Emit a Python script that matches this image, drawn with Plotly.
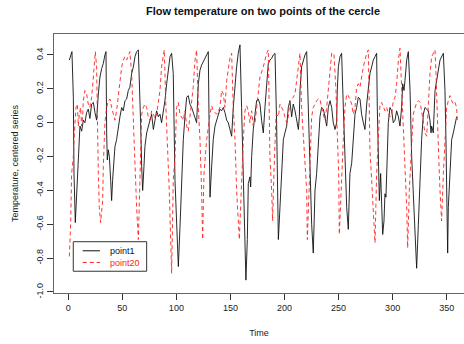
import plotly.graph_objects as go

# point1 (black, solid): time and centered temperature
t1 = [1, 2, 3.4, 4.7, 5.3, 6.5, 7.7, 9.3, 10.8, 12.4, 13.9, 15.4, 17, 18.5, 20, 21.6, 23.2, 24.7, 26.2, 27.8,
      29.3, 30.9, 32.4, 33.9, 34.9, 35.5, 36.1, 37, 38, 39.2, 40.1, 41, 42.3, 43.2, 44.7, 46.3, 47.8, 49.4, 50.9,
      52.4, 54, 55.5, 57, 58.6, 60.2, 61.7, 63.2, 64.8, 65.7, 66.9, 67.9, 68.8, 70, 70.9, 72.5, 74, 75.6, 77.1,
      78.7, 80.2, 81.7, 83.3, 84.8, 86.3, 87.9, 89.4, 91, 92.5, 94.1, 95.6, 97.1, 98.7, 100.2, 101.8, 103.3,
      104.8, 106.4, 107.9, 109.5, 111, 112.5, 114.1, 115.6, 117.2, 118.7, 120.3, 121.8, 123.3, 124.9, 126.4,
      128, 129.5, 130.4, 131.1, 132.6, 134.1, 135.7, 137.2, 138.8, 140.3, 141.8, 143.4, 144.9, 146.5, 148,
      149.5, 151.1, 152.6, 154.2, 155.7, 157.2, 158.8, 160.3, 161.9, 163.4, 164.3, 165.6, 166.5, 168, 168.7,
      169.6, 171.1, 172.7, 174.2, 175.7, 177.3, 178.8, 180.4, 181.9, 183.5, 185, 186.5, 188.1, 189.6, 191.2,
      192.7, 193.3, 194.3, 195.8, 197.3, 198.9, 200.4, 202, 203.5, 205, 206.6, 208.1, 209.7, 211.2, 212.8,
      213.7, 214.3, 215.8, 217.4, 218.9, 220.5, 222, 223.5, 225.1, 226.6, 228.2, 229.7, 231.3, 232.8, 234.3,
      235.9, 237.4, 239, 240.5, 242.1, 243.6, 245.1, 246.7, 248.2, 248.8, 249.8, 251.3, 252.8, 254.4, 255.9,
      257.5, 259, 260.5, 262.1, 263.6, 265.2, 266.7, 268.2, 269.8, 271.3, 272.9, 274.4, 276, 277.5, 279,
      280.6, 282.1, 283.7, 285.2, 285.8, 286.8, 287.7, 288.9, 289.8, 290.8, 292, 292.9, 293.8, 294.5, 296,
      297.5, 299.1, 300.6, 302.2, 303.7, 305.3, 306.8, 308.3, 309.3, 310.5, 311.4, 313, 314.5, 316.1, 317.6,
      319.1, 320.7, 322.2, 323.8, 325.3, 326.8, 328.4, 329.9, 331.5, 333, 334.5, 335.5, 336.1, 337.6, 339.2,
      340.7, 342.3, 343.8, 346.9, 348.4, 349.3, 350, 350.9, 351.5, 352.4, 353.7, 354.6, 356.1, 357.7, 359.2]
v1 = [0.37, 0.39, 0.42, 0.15, -0.30, -0.59, -0.44, -0.16, -0.02, -0.05, 0.015, 0.00, 0.06, 0.08, 0.025, 0.11,
      0.12, 0.06, 0.015, 0.17, 0.27, 0.32, 0.35, 0.40, 0.42, -0.06, -0.22, -0.16, -0.20, -0.34, -0.46, -0.34,
      -0.20, -0.14, -0.10, -0.02, 0.035, 0.09, 0.07, 0.13, 0.14, 0.19, 0.21, 0.29, 0.33, 0.39, 0.42, 0.43,
      0.29, 0.00, -0.26, -0.40, -0.26, -0.14, -0.06, -0.03, 0.015, 0.05, -0.04, 0.015, 0.07, 0.035, 0.05,
      0.00, 0.06, 0.13, 0.23, 0.33, 0.39, 0.41, 0.29, -0.34, -0.58, -0.85, -0.62, -0.34, -0.10, 0.035, 0.15,
      0.16, 0.11, 0.09, 0.06, 0.04, 0.00, 0.23, 0.31, 0.34, 0.36, 0.38, 0.40, 0.42, -0.10, -0.44, -0.26,
      -0.10, -0.02, 0.015, 0.05, 0.08, 0.07, 0.09, 0.06, 0.015, 0.00, -0.04, -0.08, 0.09, 0.23, 0.33, 0.41,
      0.46, 0.09, -0.30, -0.69, -0.93, -0.69, -0.36, -0.32, -0.38, -0.20, -0.04, 0.05, 0.13, 0.14, 0.11,
      0.015, -0.06, 0.09, 0.21, 0.35, 0.37, 0.38, 0.40, 0.41, 0.00, -0.40, -0.69, -0.50, -0.26, -0.10, -0.06,
      -0.02, 0.09, 0.13, 0.035, 0.11, 0.07, 0.015, -0.04, 0.035, 0.19, 0.33, 0.37, 0.40, 0.42, 0.09, -0.20,
      -0.60, -0.77, -0.40, -0.30, -0.10, 0.035, 0.09, 0.08, 0.035, -0.02, 0.09, 0.13, 0.09, 0.00, -0.04, 0.00,
      0.19, 0.33, 0.39, 0.41, 0.09, -0.20, -0.50, -0.63, -0.30, -0.24, -0.06, 0.05, 0.09, 0.15, 0.14, 0.05,
      0.00, -0.04, 0.11, 0.19, 0.29, 0.33, 0.37, 0.39, 0.41, 0.09, -0.30, -0.46, -0.30, -0.44, -0.66, -0.58,
      -0.42, -0.44, -0.26, 0.00, 0.09, 0.07, 0.00, 0.015, 0.07, 0.035, -0.02, 0.09, 0.23, 0.19, 0.25, 0.37,
      0.42, 0.19, -0.20, -0.42, -0.69, -0.86, -0.60, -0.34, -0.10, 0.05, 0.09, 0.08, 0.07, 0.015, -0.06,
      -0.02, -0.06, 0.19, 0.25, 0.33, 0.37, 0.41, 0.19, -0.10, -0.40, -0.77, -0.50, -0.40, -0.20, -0.10,
      -0.06, 0.00, 0.035]

# point20 (red, dashed)
t20 = [1, 2.2, 3.1, 4.7, 5.3, 6.2, 7.1, 8.4, 9.3, 10.2, 11.4, 12.4, 13.3, 13.9, 15.4, 17, 18.5, 20, 21.6, 23.2,
       24.1, 25, 26.2, 26.8, 27.8, 28.7, 29.9, 31.8, 32.4, 33.9, 35.5, 37, 38.6, 40.1, 41.7, 43.2, 44.7, 46.3,
       47.8, 49.4, 50.9, 52.4, 54, 55.5, 57, 58.6, 60.2, 61.7, 63.2, 64.8, 66.3, 66.9, 67.9, 69.4, 70.9, 72.5,
       74, 75.6, 77.1, 78.7, 80.2, 81.7, 83.3, 84.8, 86.3, 87.9, 88.8, 90.3, 91.6, 93.4, 94.7, 95.6, 97.1,
       98.7, 100.2, 101.8, 103.3, 104.8, 106.4, 107.9, 109.5, 111, 112.5, 114.1, 115.6, 117.2, 118.7, 120.3,
       121.8, 123.3, 124.3, 125.5, 128, 131.1, 132.6, 134.1, 137.2, 140.3, 141.8, 143.4, 144.9, 146.5, 148,
       149.5, 151.1, 152.6, 154.2, 155.7, 158.2, 160.3, 161.9, 163.4, 165, 166.5, 168, 169.6, 171.1, 172.7,
       174.2, 177.3, 180.4, 183.5, 185, 185.9, 186.5, 188.1, 189, 190.2, 191.2, 192.1, 192.7, 194.3, 195.8,
       197.3, 198.9, 200.4, 202, 203.5, 205, 206.6, 208.1, 209.7, 211.2, 212.8, 214.3, 215.8, 217.4, 218.9,
       220.5, 221.1, 222.9, 224.2, 225.1, 226.6, 228.2, 229.7, 231.3, 232.8, 234.3, 235.9, 237.4, 239, 240.5,
       242.1, 243.6, 245.7, 247.6, 248.8, 250.1, 250.7, 252.8, 254.4, 255.9, 257.5, 259, 260.5, 262.1, 263.6,
       265.2, 266.7, 268.2, 269.8, 271.3, 272.9, 276, 277.5, 278.4, 279, 280.6, 282.1, 283.7, 285.2, 286.8,
       288.3, 289.8, 291.4, 292.9, 294.5, 296, 297.5, 299.1, 300.6, 302.2, 303.7, 305.3, 306.8, 308.3, 309.9,
       311.4, 313, 313.9, 315.4, 316.7, 318.5, 319.1, 320.7, 322.2, 323.8, 325.3, 326.8, 328.4, 329.9, 331.5,
       333, 334.5, 336.1, 339.2, 340.1, 341.3, 342.6, 343.8, 345.3, 346.9, 348.4, 350, 351.5, 353, 354.6,
       356.1, 357.7, 359.2, 359.8]
v20 = [-0.79, -0.60, -0.30, -0.20, -0.10, 0.035, 0.09, 0.11, -0.02, 0.05, 0.09, -0.02, 0.035, 0.13, 0.19, 0.17,
       0.11, 0.09, 0.15, 0.27, 0.37, 0.42, 0.33, 0.00, -0.30, -0.50, -0.59, -0.46, -0.26, 0.00, 0.09, 0.13,
       0.14, 0.09, 0.05, 0.015, 0.07, 0.15, 0.25, 0.33, 0.37, 0.39, 0.37, 0.39, 0.42, 0.29, 0.00, -0.30, -0.50,
       -0.69, -0.30, -0.10, 0.05, 0.09, 0.11, 0.09, 0.035, 0.015, 0.07, 0.05, 0.025, 0.05, 0.11, 0.19, 0.33,
       0.41, 0.43, 0.09, -0.10, -0.40, -0.69, -0.89, -0.34, -0.20, 0.09, 0.12, 0.05, 0.035, 0.015, 0.07, -0.02,
       -0.05, 0.035, 0.11, 0.21, 0.37, 0.43, 0.09, -0.10, -0.40, -0.69, -0.30, -0.10, 0.05, 0.10, 0.07, 0.05,
       0.09, 0.19, 0.17, 0.09, 0.25, 0.33, 0.38, 0.41, 0.09, -0.10, -0.40, -0.69, -0.30, -0.10, 0.07, 0.10,
       0.07, 0.00, 0.07, -0.02, 0.00, 0.09, 0.27, 0.33, 0.41, 0.43, 0.09, -0.20, -0.40, -0.58, -0.30, -0.10,
       0.035, 0.05, 0.035, 0.11, 0.09, 0.07, 0.035, 0.00, 0.035, 0.13, 0.14, 0.15, 0.17, 0.25, 0.33, 0.41,
       0.09, -0.10, -0.20, -0.40, -0.69, -0.30, -0.10, 0.035, 0.09, 0.11, 0.13, 0.14, 0.14, 0.09, 0.05, 0.015,
       0.09, 0.19, 0.31, 0.41, 0.41, 0.19, -0.06, -0.30, -0.66, -0.30, -0.10, 0.09, 0.17, 0.16, 0.13, 0.11,
       0.05, 0.09, 0.21, 0.23, 0.21, 0.27, 0.33, 0.41, 0.43, 0.09, -0.16, -0.34, -0.50, -0.71, -0.30, -0.10,
       0.11, 0.12, 0.09, 0.07, 0.09, 0.05, 0.035, 0.05, 0.13, 0.15, 0.23, 0.37, 0.44, 0.19, -0.10, -0.26,
       -0.50, -0.74, -0.40, -0.20, -0.02, 0.05, 0.09, 0.12, 0.13, 0.12, 0.07, 0.015, -0.06, -0.08, 0.09, 0.29,
       0.39, 0.43, 0.29, 0.00, -0.20, -0.40, -0.58, -0.30, -0.06, 0.09, 0.13, 0.16, 0.13, 0.11, 0.12, 0.09,
       0.015]

x_ticks = [0, 50, 100, 150, 200, 250, 300, 350]
y_ticks = [-1.0, -0.8, -0.6, -0.4, -0.2, 0.0, 0.2, 0.4]
y_tick_text = ["-1.0", "-0.8", "-0.6", "-0.4", "-0.2", "0.0", "0.2", "0.4"]

series_names = ["point1", "point20"]
series_colors = ["#111111", "#ff2020"]
series_dash = ["solid", "4px,3px"]

FONT = "Liberation Sans, Arial, sans-serif"

fig = go.Figure()
fig.add_trace(go.Scatter(x=t1, y=v1, mode="lines", name=series_names[0],
                         line=dict(color=series_colors[0], width=0.9, dash=series_dash[0])))
fig.add_trace(go.Scatter(x=t20, y=v20, mode="lines", name=series_names[1],
                         line=dict(color=series_colors[1], width=0.9, dash=series_dash[1])))

# compact R-style legend box (bottom-left of the plot area), in paper coordinates
lg_x0, lg_x1, lg_y0, lg_y1 = 0.047, 0.226, 0.084, 0.198
sample_x0, sample_x1, text_x = 0.070, 0.112, 0.134
row_y = [0.163, 0.118]
shapes = [dict(type="rect", xref="paper", yref="paper", x0=lg_x0, x1=lg_x1, y0=lg_y0, y1=lg_y1,
               line=dict(color="#333333", width=1), fillcolor="white", layer="above")]
for col, dash, yy in zip(series_colors, series_dash, row_y):
    shapes.append(dict(type="line", xref="paper", yref="paper", x0=sample_x0, x1=sample_x1, y0=yy, y1=yy,
                       line=dict(color=col, width=1, dash=dash), layer="above"))
legend_text = "<br>".join(
    f"<span style='color:{c}'>{n}</span>" for n, c in zip(series_names, series_colors))
annotations = [dict(text=legend_text, xref="paper", yref="paper", x=text_x,
                    y=(row_y[0] + row_y[1]) / 2, xanchor="left", yanchor="middle", align="left",
                    showarrow=False, borderpad=0, font=dict(size=9, color=series_colors[0]))]

fig.update_layout(
    width=464, height=344,
    margin=dict(l=54, r=0, t=34, b=51),
    paper_bgcolor="white", plot_bgcolor="white",
    font=dict(family=FONT, size=9, color="#222222"),
    title=dict(text="<b>Flow temperature on two points of the cercle</b>",
               x=263 / 464, xanchor="center", xref="container",
               y=1 - 11 / 344, yanchor="middle", yref="container",
               font=dict(size=11, color="#111111")),
    showlegend=False,
    shapes=shapes,
    annotations=annotations,
    xaxis=dict(range=[-13.2, 366], tickmode="array", tickvals=x_ticks,
               ticks="outside", ticklen=6, tickcolor="#333333", tickwidth=1,
               showline=True, linecolor="#666666", linewidth=1.2, mirror=True,
               showgrid=False, zeroline=False,
               title=dict(text="Time", standoff=17, font=dict(size=9))),
    yaxis=dict(range=[-1.006, 0.524], tickmode="array", tickvals=y_ticks, ticktext=y_tick_text,
               tickangle=-90,
               ticks="outside", ticklen=6, tickcolor="#333333", tickwidth=1,
               showline=True, linecolor="#666666", linewidth=1.2, mirror=False,
               showgrid=False, zeroline=False,
               title=dict(text="Temperature, centered series", standoff=15, font=dict(size=9))),
)

fig.write_html("out.html")
